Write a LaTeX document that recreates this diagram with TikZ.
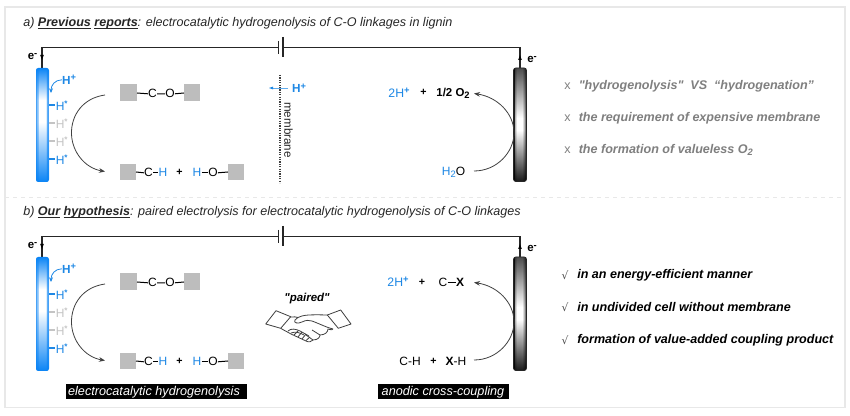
\documentclass[tikz,border=0pt]{standalone}
\usepackage{fontspec}
\setmainfont{Liberation Sans}
\newfontfamily\plainsans{Liberation Sans}
\usetikzlibrary{arrows.meta,calc}
\definecolor{hblue}{HTML}{1E88E5}
\definecolor{elblue}{HTML}{0A84F5}
\definecolor{fadeh}{HTML}{C4C4C4}
\definecolor{sqgray}{HTML}{BDBDBD}
\definecolor{framegray}{HTML}{E8E8E8}
\definecolor{notegray}{HTML}{7F7F7F}
\newcommand{\subs}[1]{\raisebox{-0.25ex}{\scriptsize #1}}
\newcommand{\sups}[1]{\raisebox{0.5ex}{\scriptsize\bfseries #1}}
\newcommand{\ul}[1]{\underline{\smash{#1}}}
\tikzset{
  x=0.75pt,y=-0.75pt,
  txt/.style={inner sep=0pt,yshift=-0.6pt,font=\fontsize{9pt}{10pt}\selectfont},
  blue/.style={txt,text=hblue},
  caption/.style={inner sep=0pt,anchor=west,yshift=-1.1pt,text=black!85,font=\fontsize{9.42pt}{10pt}\selectfont\itshape},
  note/.style={inner sep=0pt,anchor=west,yshift=-0.8pt,font=\fontsize{9.42pt}{10pt}\selectfont\itshape\bfseries},
  mark sym/.style={inner sep=0pt,yshift=-0.8pt,font=\fontsize{9.4pt}{10pt}\selectfont},
  wire/.style={line width=0.85pt,draw=black!85},
  bond/.style={line width=0.75pt,draw=black},
  sq/.style={fill=sqgray,draw=none},
  curve/.style={line width=0.6pt,draw=black!75,-{Stealth[length=4.5pt,width=3.5pt]}},
  blackbox/.style={text=white,inner sep=0pt,yshift=-1.1pt,font=\fontsize{9.5pt}{10pt}\selectfont\itshape,anchor=center},
}
\newcommand{\edges}[3]{% #1 colour, #2 left x, #3 right x
  \foreach \ss/\oo in {0/.75,.8/.5,1.6/.28,2.4/.12}{
    \fill[#1,opacity=\oo] (#2+\ss,60) rectangle (#2+\ss+.8,190);
    \fill[#1,opacity=\oo] (#3-\ss-.8,60) rectangle (#3-\ss,190);
  }%
}
\newcommand{\cell}[1]{%
  \begin{scope}[yshift=-0.75pt*#1]
    \coordinate (wl) at (42,47.5);
    \coordinate (wr) at (520,47.5);
    \coordinate (bl) at (278.5,47.5);
    \coordinate (br) at (283,47.5);
    \draw[wire] (bl) -- (wl) -- (42,68);
    \draw[wire] (br) -- (wr) -- (520,68);
    \draw[line width=0.85pt,black!85] (278.5,41) -- (278.5,54);
    \draw[line width=0.85pt,black!85] (283,37) -- (283,57.5);
    \fill[black] (42,60) -- (40.2,55) -- (43.8,55) -- cycle;
    \fill[black] (520,55) -- (518.2,60) -- (521.8,60) -- cycle;
    \node[txt,font=\fontsize{8.6pt}{10pt}\selectfont\bfseries] (el) at (32.5,55.5) {e\sups{-}};
    \node[txt,font=\fontsize{8.6pt}{10pt}\selectfont\bfseries] (er) at (532,59) {e\sups{-}};
    % cathode
    \begin{scope}
      \clip[rounded corners=1.8pt] (36,68) rectangle (49,182);
      \shade[top color=elblue,bottom color=white] (36,68) rectangle (49,100);
      \fill[white] (36,100) rectangle (49,122);
      \shade[top color=white,bottom color=elblue] (36,122) rectangle (49,182);
      \edges{elblue}{36}{49}
    \end{scope}
    % anode
    \begin{scope}
      \clip[rounded corners=1.8pt] (513.5,68) rectangle (526.5,181.5);
      \shade[top color=black!70,bottom color=white] (513.5,68) rectangle (526.5,118);
      \fill[white] (513.5,118) rectangle (526.5,130);
      \shade[top color=white,bottom color=black!90] (513.5,130) rectangle (526.5,181.5);
      \edges{black}{513.5}{526.5}
    \end{scope}
    \draw[black!85,line width=.6pt,rounded corners=1.8pt] (513.5,68) rectangle (526.5,181.5);
    % surface H
    \node[blue,font=\fontsize{8.8pt}{10pt}\selectfont\bfseries] (hp) at (69,79) {H\sups{+}};
    \draw[hblue,line width=.6pt,-{Stealth[length=3.5pt,width=3pt]}] (hp.west) .. controls (55,80) and (51,85) .. (51,93);
    \foreach \yy/\cc in {105/hblue,123/fadeh,141/fadeh,159/hblue}{
      \draw[\cc,line width=.85pt] (49,\yy) -- (55,\yy);
      \node[txt,text=\cc,anchor=west,font=\fontsize{9pt}{10pt}\selectfont] at (55.5,\yy) {H\raisebox{0.5ex}{\fontsize{6pt}{6pt}\selectfont\bfseries *}};
    }
    % big cathode arc
    \coordinate (cs) at (105,95);
    \coordinate (ce) at (105,171.5);
    \draw[curve] (cs) .. controls (83,98) and (71,115) .. (71.5,134) .. controls (72,152) and (85,168) .. (ce);
    % C-O substrate
    \fill[sq] (120,84) rectangle (137,101);
    \fill[sq] (184,84) rectangle (200,101);
    \node[txt] (c1) at (152.5,93) {C};
    \node[txt] (o1) at (170,93) {O};
    \draw[bond] (137,93) -- (c1.west) (c1.east) -- (o1.west) (o1.east) -- (184,93);
    % products
    \fill[sq] (120,164) rectangle (136,180.5);
    \fill[sq] (228,164) rectangle (244,180.5);
    \node[txt] (c2) at (148.5,172) {C};
    \node[blue] (h2) at (163,172) {H};
    \node[txt,font=\fontsize{8pt}{9pt}\selectfont\bfseries] at (179.5,172) {+};
    \node[blue] (h3) at (197,172) {H};
    \node[txt] (o2) at (213,172) {O};
    \draw[bond] (136,172) -- (c2.west);
    \draw[bond] (c2.east) -- (h2.west);
    \draw[bond] (h3.east) -- (o2.west);
    \draw[bond] (o2.east) -- (228,172);
    % anode arc
    \coordinate (as) at (474,171);
    \coordinate (ae) at (474,93.5);
    \draw[curve] (as) .. controls (497,171) and (514,152) .. (514,133) .. controls (514,113) and (497,97) .. (ae);
  \end{scope}
}
\begin{document}
\begin{tikzpicture}
\useasboundingbox (0,0) rectangle (850,416);
\fill[white] (0,0) rectangle (850,416);
% frame
\draw[framegray,line width=.8pt] (5,7) rectangle (845,407.5);
\draw[framegray,line width=.6pt,dash pattern=on 3pt off 3pt] (5,197) -- (845,197);
% captions
\node[caption] (capa) at (23,22) {a) \textbf{\ul{Previous}} \textbf{\ul{reports}}: electrocatalytic hydrogenolysis of C-O linkages in lignin};
\node[caption] (capb) at (23,211) {b) \textbf{\ul{Our}} \textbf{\ul{hypothesis}}: paired electrolysis for electrocatalytic hydrogenolysis of C-O linkages};
\cell{0}
\cell{189}
% top-specific
\draw[hblue!70,line width=.4pt] (288,88) -- (272,88);
\fill[hblue] (269,88) -- (273,86.6) -- (273,89.4) -- cycle;
\node[blue,font=\fontsize{8.8pt}{10pt}\selectfont\bfseries] (hm) at (299,87.5) {H\sups{+}};
\coordinate (m1) at (280,75);
\coordinate (m2) at (280,183);
\draw[black!75,line width=.8pt,dash pattern=on .9pt off .9pt] (m1) -- (m2);
\node[inner sep=0pt,rotate=-90,text=black!85,font=\fontsize{8.7pt}{9pt}\selectfont] (mem) at (288.5,130) {membrane};
\node[blue,font=\fontsize{9.2pt}{10pt}\selectfont] at (399,92) {2H\sups{+}};
\node[txt,font=\fontsize{8pt}{9pt}\selectfont\bfseries] at (423.5,92) {+};
\node[txt,font=\fontsize{8.6pt}{10pt}\selectfont\bfseries] at (453,92.5) {1/2 O\subs{2}};
\node[blue,font=\fontsize{9pt}{10pt}\selectfont] at (453.5,171.5) {H\subs{2}\textcolor{black}{O}};
% notes a
\foreach \yy/\tt in {85/{\plainsans "hydrogenolysis"\ \ VS\ \ “hydrogenation”},117/{the requirement of expensive membrane},149/{the formation of valueless O\subs{2}}}{
  \node[mark sym,text=notegray] at (567.5,\yy) {x};
  \node[note,text=notegray] at (578.5,\yy) {\tt};
}
% bottom-specific
\node[blue,font=\fontsize{9.2pt}{10pt}\selectfont] at (398,281) {2H\sups{+}};
\node[txt,font=\fontsize{8pt}{9pt}\selectfont\bfseries] at (422,281.5) {+};
\node[txt] (cx) at (443,282) {C};
\node[txt,font=\fontsize{9pt}{10pt}\selectfont\bfseries] (xx) at (460,282) {X};
\draw[line width=.9pt] (cx.east) -- (xx.west);
\node[txt] at (410,360.5) {C-H};
\node[txt,font=\fontsize{8pt}{9pt}\selectfont\bfseries] at (433.5,360.5) {+};
\node[txt] at (456,360.5) {\textbf{X}-H};
\node[inner sep=0pt,yshift=-0.6pt,font=\fontsize{8.6pt}{10pt}\selectfont\plainsans\itshape\bfseries] at (307,298) {"paired"};
% handshake
\begin{scope}[black!75,line width=.6pt,line join=round]
  \draw (265.7,324) -- (276,310.7) -- (290.7,316.7) -- (280.7,328.3) -- cycle;
  \draw (327.3,315) -- (340.7,310) -- (351,324) -- (338.3,328.3) -- cycle;
  \draw (290.7,317) .. controls (294,317) and (296,316.5) .. (298,317.5) -- (295,320) .. controls (293,323) and (298,324) .. (302,322) .. controls (306,320) and (309,320) .. (312,321) .. controls (320,324) and (328,328) .. (333,329);
  \draw (298,317.5) .. controls (303,315) and (308,314.5) .. (327.3,315);
  \draw (280.7,328.3) .. controls (285,331) and (288,332) .. (291,334) -- (306,341) .. controls (309,342.5) and (311,342) .. (313,340) .. controls (318,340) and (320,337) .. (320,335) .. controls (325,335) and (328,332) .. (328,329) .. controls (331,330) and (333,330) .. (333,329);
  \draw (288,331) .. controls (291,328) and (296,329) .. (300,331) -- (309,336);
  \draw (291,333) .. controls (296,331) and (300,333) .. (304,335);
  \draw (294,335) -- (298,331) (298,337) -- (302,332) (302,339) -- (306,334) (306,340.5) -- (310,337);
  \draw (313,340) -- (306,335) (320,335) -- (312,330);
\end{scope}
% labels
\fill[black] (65.5,384) rectangle (246.5,399);
\node[blackbox] (lb1) at (154,390.5) {electrocatalytic hydrogenolysis};
\fill[black] (377.5,384) rectangle (508.5,399);
\node[blackbox] (lb2) at (443,390.5) {anodic cross-coupling};
% notes b
\foreach \yy/\tt in {274/{in an energy-efficient manner},306/{in undivided cell without membrane},339/{formation of value-added coupling product}}{
  \node[mark sym,text=black!70,font=\fontsize{8pt}{9pt}\selectfont\fontspec{DejaVu Sans}] at (565,\yy) {√};
  \node[note,text=black] at (577,\yy) {\tt};
}
\end{tikzpicture}
\end{document}
